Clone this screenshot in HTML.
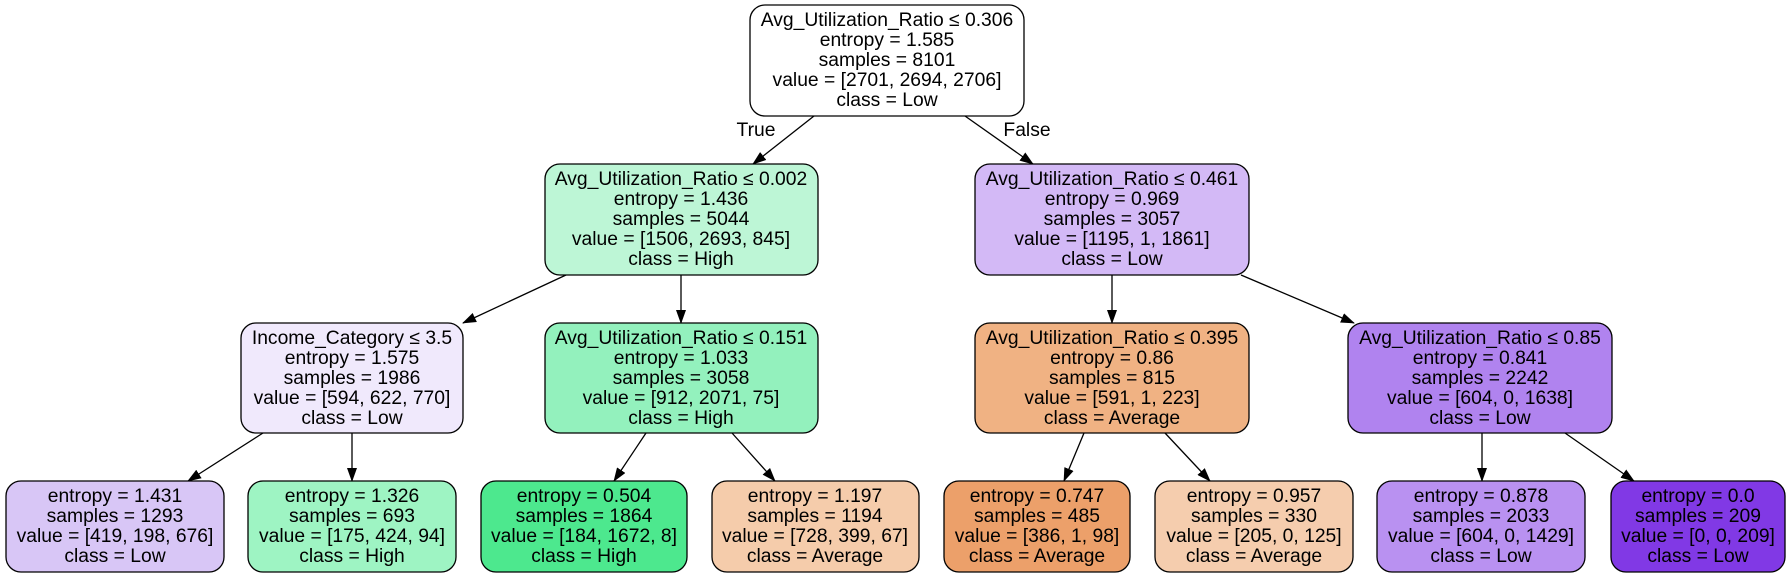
<!DOCTYPE html>
<html><head><meta charset="utf-8"><style>
html,body{margin:0;padding:0;background:#fff;}
svg{display:block}
text{font-family:"Liberation Sans",sans-serif;font-size:19.3px;text-anchor:middle;fill:#000}
rect{stroke:#000;stroke-width:1.3}
line{stroke:#000;stroke-width:1.3}
</style></head><body>
<svg width="1789" height="577" viewBox="0 0 1789 577" xmlns="http://www.w3.org/2000/svg">
<defs><marker id="a" markerWidth="14" markerHeight="10" refX="13" refY="5" orient="auto" markerUnits="userSpaceOnUse"><path d="M0,0 L14,5 L0,10 z" fill="#000"/></marker></defs>
<g>
<line x1="814" y1="116" x2="753" y2="164" marker-end="url(#a)"/>
<line x1="965" y1="116" x2="1033" y2="164" marker-end="url(#a)"/>
<line x1="566" y1="275" x2="463" y2="323" marker-end="url(#a)"/>
<line x1="681" y1="275" x2="681" y2="323" marker-end="url(#a)"/>
<line x1="1112" y1="275" x2="1112" y2="323" marker-end="url(#a)"/>
<line x1="1241" y1="275" x2="1354" y2="323" marker-end="url(#a)"/>
<line x1="263" y1="433" x2="188" y2="481" marker-end="url(#a)"/>
<line x1="352" y1="433" x2="352" y2="481" marker-end="url(#a)"/>
<line x1="646" y1="433" x2="614" y2="481" marker-end="url(#a)"/>
<line x1="732" y1="433" x2="775" y2="481" marker-end="url(#a)"/>
<line x1="1084" y1="433" x2="1064" y2="481" marker-end="url(#a)"/>
<line x1="1165" y1="433" x2="1210" y2="481" marker-end="url(#a)"/>
<line x1="1482" y1="433" x2="1482" y2="481" marker-end="url(#a)"/>
<line x1="1565" y1="433" x2="1634" y2="481" marker-end="url(#a)"/>
</g>
<text x="756" y="136">True</text>
<text x="1027" y="136">False</text>

<rect x="750" y="5" width="274" height="111" rx="15" fill="#ffffff"/>
<text x="887" y="26">Avg_Utilization_Ratio ≤ 0.306</text><text x="887" y="46">entropy = 1.585</text><text x="887" y="66">samples = 8101</text><text x="887" y="86">value = [2701, 2694, 2706]</text><text x="887" y="106">class = Low</text>

<rect x="545" y="164" width="273" height="111" rx="15" fill="#bdf6d6"/>
<text x="681" y="185">Avg_Utilization_Ratio ≤ 0.002</text><text x="681" y="205">entropy = 1.436</text><text x="681" y="225">samples = 5044</text><text x="681" y="245">value = [1506, 2693, 845]</text><text x="681" y="265">class = High</text>

<rect x="975" y="164" width="274" height="111" rx="15" fill="#d3b9f6"/>
<text x="1112" y="185">Avg_Utilization_Ratio ≤ 0.461</text><text x="1112" y="205">entropy = 0.969</text><text x="1112" y="225">samples = 3057</text><text x="1112" y="245">value = [1195, 1, 1861]</text><text x="1112" y="265">class = Low</text>

<rect x="241" y="323" width="222" height="110" rx="15" fill="#f0e9fc"/>
<text x="352" y="344">Income_Category ≤ 3.5</text><text x="352" y="364">entropy = 1.575</text><text x="352" y="384">samples = 1986</text><text x="352" y="404">value = [594, 622, 770]</text><text x="352" y="424">class = Low</text>

<rect x="545" y="323" width="273" height="110" rx="15" fill="#93f1bd"/>
<text x="681" y="344">Avg_Utilization_Ratio ≤ 0.151</text><text x="681" y="364">entropy = 1.033</text><text x="681" y="384">samples = 3058</text><text x="681" y="404">value = [912, 2071, 75]</text><text x="681" y="424">class = High</text>

<rect x="975" y="323" width="274" height="110" rx="15" fill="#f0b283"/>
<text x="1112" y="344">Avg_Utilization_Ratio ≤ 0.395</text><text x="1112" y="364">entropy = 0.86</text><text x="1112" y="384">samples = 815</text><text x="1112" y="404">value = [591, 1, 223]</text><text x="1112" y="424">class = Average</text>

<rect x="1348" y="323" width="264" height="110" rx="15" fill="#b083ef"/>
<text x="1480" y="344">Avg_Utilization_Ratio ≤ 0.85</text><text x="1480" y="364">entropy = 0.841</text><text x="1480" y="384">samples = 2242</text><text x="1480" y="404">value = [604, 0, 1638]</text><text x="1480" y="424">class = Low</text>

<rect x="6" y="481" width="218" height="91" rx="15" fill="#d8c6f6"/>
<text x="115" y="502">entropy = 1.431</text><text x="115" y="522">samples = 1293</text><text x="115" y="542">value = [419, 198, 676]</text><text x="115" y="562">class = Low</text>

<rect x="248" y="481" width="208" height="91" rx="15" fill="#9ef4c3"/>
<text x="352" y="502">entropy = 1.326</text><text x="352" y="522">samples = 693</text><text x="352" y="542">value = [175, 424, 94]</text><text x="352" y="562">class = High</text>

<rect x="481" y="481" width="206" height="91" rx="15" fill="#4de88e"/>
<text x="584" y="502">entropy = 0.504</text><text x="584" y="522">samples = 1864</text><text x="584" y="542">value = [184, 1672, 8]</text><text x="584" y="562">class = High</text>

<rect x="712" y="481" width="207" height="91" rx="15" fill="#f5ccab"/>
<text x="815" y="502">entropy = 1.197</text><text x="815" y="522">samples = 1194</text><text x="815" y="542">value = [728, 399, 67]</text><text x="815" y="562">class = Average</text>

<rect x="944" y="481" width="186" height="91" rx="15" fill="#eca06a"/>
<text x="1037" y="502">entropy = 0.747</text><text x="1037" y="522">samples = 485</text><text x="1037" y="542">value = [386, 1, 98]</text><text x="1037" y="562">class = Average</text>

<rect x="1155" y="481" width="198" height="91" rx="15" fill="#f5cdae"/>
<text x="1254" y="502">entropy = 0.957</text><text x="1254" y="522">samples = 330</text><text x="1254" y="542">value = [205, 0, 125]</text><text x="1254" y="562">class = Average</text>

<rect x="1377" y="481" width="208" height="91" rx="15" fill="#b991f1"/>
<text x="1481" y="502">entropy = 0.878</text><text x="1481" y="522">samples = 2033</text><text x="1481" y="542">value = [604, 0, 1429]</text><text x="1481" y="562">class = Low</text>

<rect x="1611" y="481" width="174" height="91" rx="15" fill="#8139e5"/>
<text x="1698" y="502">entropy = 0.0</text><text x="1698" y="522">samples = 209</text><text x="1698" y="542">value = [0, 0, 209]</text><text x="1698" y="562">class = Low</text>
</svg>
</body></html>
